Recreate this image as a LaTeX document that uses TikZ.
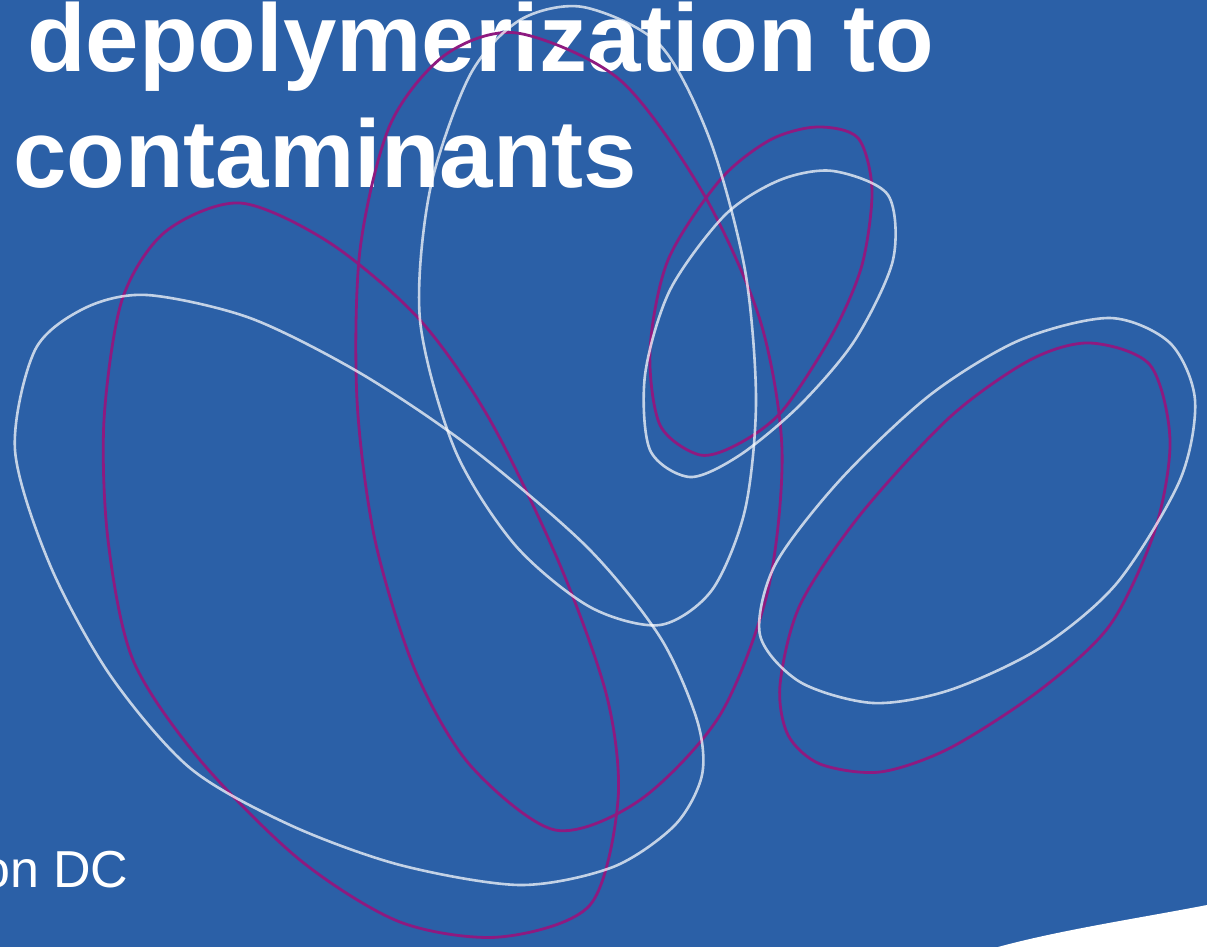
\documentclass[tikz,border=0pt]{standalone}
\usepackage{fontspec}
\setmainfont{Liberation Sans}
\definecolor{bgblue}{HTML}{2B60A7}
\definecolor{loopviolet}{HTML}{8E1A80}
\begin{document}
\begin{tikzpicture}[x=1pt,y=-1pt,
  wloop/.style={draw=white,draw opacity=0.72,line width=2.6pt},
  ploop/.style={draw=loopviolet,line width=2.8pt},
  txt/.style={inner sep=0pt,anchor=base west,text=white}]
\useasboundingbox (0,0) rectangle (1207,947);
\clip (0,0) rectangle (1207,947);
\fill[bgblue] (0,0) rectangle (1207,947);
% bottom-right white corner
\fill[white] (998,947) .. controls (1060,930) and (1140,918) .. (1207,905) -- (1207,947) -- cycle;
% texts
\node[txt,font=\fontsize{96}{115}\selectfont\bfseries] (t1) at (27,72) {depolymerization to};
\node[txt,font=\fontsize{96}{115}\selectfont\bfseries] (t2) at (13,187) {contaminants};
\node[txt,font=\fontsize{52}{62}\selectfont] (t3) at (-19,887) {on DC};
% loops
\draw[ploop] plot[smooth cycle] coordinates {(240,203) (330,243) (420,320) (490,420) (560,565) (607,697) (618,800) (590,905) (500,937) (400,922) (300,860) (200,760) (133,660) (108,540) (104,420) (122,300) (165,232)};
\draw[ploop] plot[smooth cycle] coordinates {(517,33) (620,80) (703,193) (760,320) (782,450) (768,590) (720,715) (640,800) (555,830) (470,765) (415,670) (375,540) (357,400) (360,250) (390,125) (445,55)};
\draw[ploop] plot[smooth cycle] coordinates {(817,127) (858,138) (872,190) (862,265) (833,333) (783,410) (740,443) (700,455) (660,425) (650,350) (668,260) (720,180) (770,140)};
\draw[ploop] plot[smooth cycle] coordinates {(1090,343) (1150,365) (1170,440) (1155,530) (1110,625) (1040,690) (950,748) (880,772) (820,764) (788,735) (780,685) (800,605) (860,515) (950,417) (1030,360)};
\draw[wloop] plot[smooth cycle] coordinates {(147,295) (250,318) (360,373) (470,447) (587,547) (660,637) (697,720) (702,775) (675,825) (613,867) (520,885) (400,865) (290,825) (190,768) (110,675) (50,565) (15,450) (35,350) (85,308)};
\draw[wloop] plot[smooth cycle] coordinates {(583,7) (660,45) (710,140) (745,270) (756,400) (745,510) (712,590) (660,625) (590,607) (515,545) (455,450) (420,320) (430,190) (470,75) (520,20)};
\draw[wloop] plot[smooth cycle] coordinates {(833,171) (888,195) (893,260) (855,340) (800,405) (740,455) (690,477) (650,450) (645,375) (670,290) (725,215) (780,180)};
\draw[wloop] plot[smooth cycle] coordinates {(1110,318) (1170,343) (1195,400) (1180,480) (1117,583) (1040,648) (950,690) (873,703) (800,682) (760,635) (775,565) (840,480) (930,395) (1020,340)};
\end{tikzpicture}
\end{document}
